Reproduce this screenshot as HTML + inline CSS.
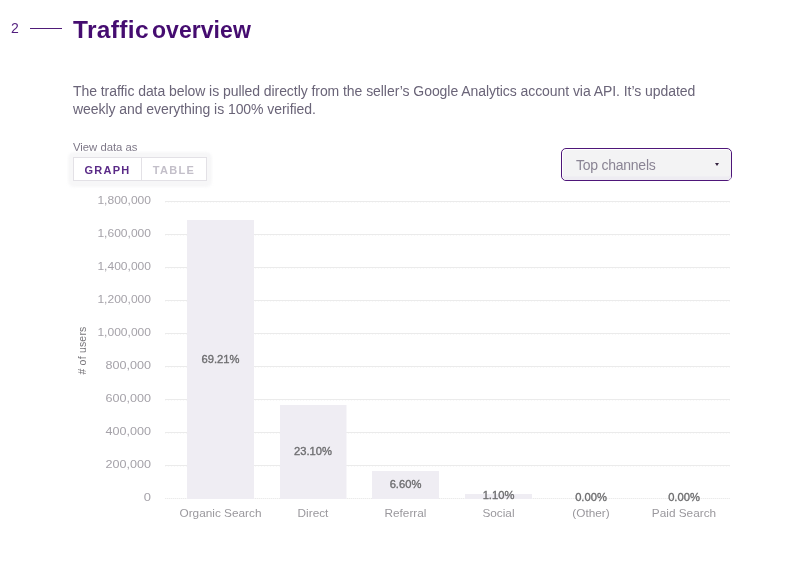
<!DOCTYPE html>
<html><head><meta charset="utf-8">
<style>
html,body{margin:0;padding:0;background:#fff;}
#wrap{position:absolute;left:0;top:0;width:789px;height:575px;will-change:transform;}
body{width:789px;height:575px;position:relative;overflow:hidden;font-family:"Liberation Sans",Arial,sans-serif;}
.abs{position:absolute;white-space:nowrap;}
#num{left:11px;top:20px;font-size:14px;color:#521e7e;line-height:16px;}
#rule{left:30px;top:28px;width:32px;height:1px;background:#4f1b78;}
#title{left:73px;top:17.2px;font-size:23px;font-weight:700;color:#450c70;line-height:26px;letter-spacing:0.33px;}
#t1{position:absolute;left:0;top:0;transform:scaleX(1.065);transform-origin:0 0;}
#t2{position:absolute;left:79px;top:0;letter-spacing:0.05px;}
#desc{left:73px;top:82px;font-size:14px;color:#6a6478;line-height:18px;white-space:nowrap;width:660px;letter-spacing:-0.06px;}
#vda{left:73px;top:140px;font-size:11.3px;color:#7d7787;line-height:14px;}
#toggle{left:73px;top:157px;width:132px;height:22px;border:1px solid #e3e1e6;background:#fff;}
#tshadow{left:68px;top:152px;width:144px;height:35px;border-radius:6px;background:#f7f7f8;filter:blur(1px);}
#toggle .g{position:absolute;left:0;top:0;width:67px;height:22px;border-right:1px solid #e3e1e6;text-align:center;font-size:11px;font-weight:700;letter-spacing:1.3px;line-height:25px;color:#5a2a87;}
#toggle .t{position:absolute;left:68px;top:0;width:64px;height:22px;text-align:center;font-size:11px;font-weight:700;letter-spacing:1.3px;line-height:25px;color:#c3bfc9;}
#sel{left:561px;top:148px;width:169px;height:31px;border:1.5px solid #4e1679;border-radius:5px;background:#fff;}
#sel .bg{position:absolute;left:0.5px;top:0.5px;right:0.5px;bottom:0.5px;border-radius:4px;background:#f3f3f4;box-shadow:inset 0 -3.5px 0 #eeecf2;}
#sel .lab{position:absolute;left:14px;top:7px;font-size:14px;color:#8a8494;line-height:18px;letter-spacing:-0.25px;}
#sel .arr{position:absolute;left:152.7px;top:14.3px;width:0;height:0;border-left:2.5px solid transparent;border-right:2.5px solid transparent;border-top:3px solid #35223f;}
svg{position:absolute;left:0;top:0;}
</style></head>
<body><div id="wrap">
<div class="abs" id="num">2</div>
<div class="abs" id="rule"></div>
<div class="abs" id="title"><span id="t1">Traffic</span><span id="t2">overview</span></div>
<div class="abs" id="desc">The traffic data below is pulled directly from the seller’s Google Analytics account via API. It’s updated<br>weekly and everything is 100% verified.</div>
<div class="abs" id="vda">View data as</div>
<div class="abs" id="tshadow"></div>
<div class="abs" id="toggle"><div class="g">GRAPH</div><div class="t">TABLE</div></div>
<div class="abs" id="sel"><div class="bg"></div><div class="lab">Top channels</div><div class="arr"></div></div>
<svg width="789" height="575" viewBox="0 0 789 575">
 <g stroke="#f8f8f8" stroke-width="1" shape-rendering="crispEdges" stroke-dasharray="1 2">
  <line x1="165" x2="730" y1="202.5" y2="202.5"/>
  <line x1="165" x2="730" y1="235.5" y2="235.5"/>
  <line x1="165" x2="730" y1="268.5" y2="268.5"/>
  <line x1="165" x2="730" y1="301.5" y2="301.5"/>
  <line x1="165" x2="730" y1="334.5" y2="334.5"/>
  <line x1="165" x2="730" y1="367.5" y2="367.5"/>
  <line x1="165" x2="730" y1="400.5" y2="400.5"/>
  <line x1="165" x2="730" y1="433.5" y2="433.5"/>
  <line x1="165" x2="730" y1="466.5" y2="466.5"/>
 </g>
 <g stroke="#ebebeb" stroke-width="1" shape-rendering="crispEdges">
  <line x1="165" x2="730" y1="201.5" y2="201.5"/>
  <line x1="165" x2="730" y1="234.5" y2="234.5"/>
  <line x1="165" x2="730" y1="267.5" y2="267.5"/>
  <line x1="165" x2="730" y1="300.5" y2="300.5"/>
  <line x1="165" x2="730" y1="333.5" y2="333.5"/>
  <line x1="165" x2="730" y1="366.5" y2="366.5"/>
  <line x1="165" x2="730" y1="399.5" y2="399.5"/>
  <line x1="165" x2="730" y1="432.5" y2="432.5"/>
  <line x1="165" x2="730" y1="465.5" y2="465.5"/>
  <line x1="165" x2="730" y1="498.5" y2="498.5" stroke="#f7f7f7"/>
  <line x1="165" x2="730" y1="498.5" y2="498.5" stroke-dasharray="1 1"/>
 </g>
 <g font-family="Liberation Sans, Arial, sans-serif" font-size="11" fill="#a5a2a9" text-anchor="end">
  <text x="151" y="203.9" textLength="53.6" lengthAdjust="spacingAndGlyphs">1,800,000</text>
  <text x="151" y="236.9" textLength="53.6" lengthAdjust="spacingAndGlyphs">1,600,000</text>
  <text x="151" y="269.9" textLength="53.6" lengthAdjust="spacingAndGlyphs">1,400,000</text>
  <text x="151" y="302.9" textLength="53.6" lengthAdjust="spacingAndGlyphs">1,200,000</text>
  <text x="151" y="335.9" textLength="53.6" lengthAdjust="spacingAndGlyphs">1,000,000</text>
  <text x="151" y="368.9" textLength="45.5" lengthAdjust="spacingAndGlyphs">800,000</text>
  <text x="151" y="401.9" textLength="45.5" lengthAdjust="spacingAndGlyphs">600,000</text>
  <text x="151" y="434.9" textLength="45.5" lengthAdjust="spacingAndGlyphs">400,000</text>
  <text x="151" y="467.9" textLength="45.5" lengthAdjust="spacingAndGlyphs">200,000</text>
  <text x="151" y="500.9" textLength="7.2" lengthAdjust="spacingAndGlyphs">0</text>
 </g>
 <text transform="translate(86,350.5) rotate(-90)" font-family="Liberation Sans, Arial, sans-serif" font-size="10.5" fill="#77757a" letter-spacing="0.2" text-anchor="middle"># of users</text>
 <g fill="#efedf3">
  <rect x="187" y="220" width="67" height="279"/>
  <rect x="280" y="405" width="66.5" height="94"/>
  <rect x="372" y="471" width="67" height="28"/>
  <rect x="465" y="494" width="67" height="5"/>
 </g>
 <g font-family="Liberation Sans, Arial, sans-serif" font-size="11.2" font-weight="400" fill="#6e6e70" stroke="#6e6e70" stroke-width="0.35" text-anchor="middle">
  <text x="220.5" y="363">69.21%</text>
  <text x="313" y="455">23.10%</text>
  <text x="405.5" y="488">6.60%</text>
  <text x="498.5" y="499">1.10%</text>
  <text x="591" y="501">0.00%</text>
  <text x="684" y="501">0.00%</text>
 </g>
 <g font-family="Liberation Sans, Arial, sans-serif" font-size="11.8" fill="#9a989d" transform="translate(0,-1)" text-anchor="middle">
  <text x="220.5" y="517.5">Organic Search</text>
  <text x="313" y="517.5">Direct</text>
  <text x="405.5" y="517.5">Referral</text>
  <text x="498.5" y="517.5">Social</text>
  <text x="591" y="517.5">(Other)</text>
  <text x="684" y="517.5">Paid Search</text>
 </g>
</svg>
</div></body></html>
